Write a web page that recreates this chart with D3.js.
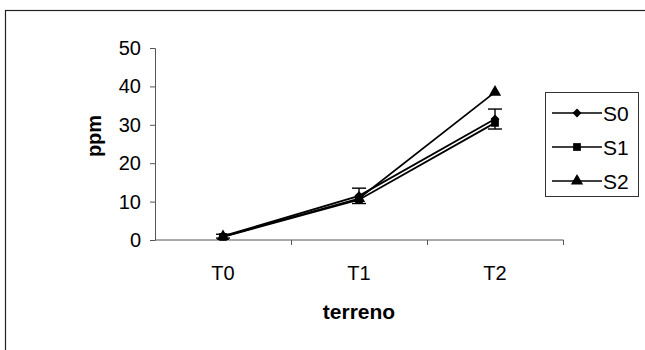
<!DOCTYPE html>
<html>
<head>
<meta charset="utf-8">
<script src="https://cdn.jsdelivr.net/npm/d3@7"></script>
<style>
  body { margin: 0; background: #fff; }
  text { font-family: Arial, "Liberation Sans", sans-serif; fill: #000; }
</style>
</head>
<body>
<div id="chart"></div>
<script>
const categories = ["T0", "T1", "T2"];
const seriesNames = ["S0", "S1", "S2"];
const s0 = [1, 11.5, 31.5];
const s1 = [0.8, 10.5, 30.5];
const s2 = [0.9, 10.8, 38.5];
const s0Err = [0.5, 2, 2.6];
const yTicks = [0, 10, 20, 30, 40, 50];

// S0 diamond = square turned 45 degrees
const series = [
    {name: "S0", values: s0, err: s0Err, symbol: d3.symbolSquare, size: 40, rot: 45},
    {name: "S1", values: s1, err: null, symbol: d3.symbolSquare, size: 60, rot: 0},
    {name: "S2", values: s2, err: null, symbol: d3.symbolTriangle, size: 65, rot: 0}
];

const W = 645, H = 350;
const margin = {top: 48, left: 155};
const width = 563 - margin.left, height = 240 - margin.top;

const svg = d3.select("#chart").append("svg")
    .attr("width", W).attr("height", H);

// outer chart frame (runs off the right and bottom of the picture)
svg.append("rect")
    .attr("x", 5.5).attr("y", 10.5)
    .attr("width", 700).attr("height", 400)
    .attr("fill", "none").attr("stroke", "#222").attr("stroke-width", 1.2);

const g = svg.append("g")
    .attr("transform", "translate(" + margin.left + "," + margin.top + ")");

const x = d3.scaleBand().domain(categories).range([0, width]);
const y = d3.scaleLinear().domain([0, 50]).range([height, 0]);

const yAxis = d3.axisLeft(y).tickValues(yTicks).tickSize(5).tickPadding(9);
const gy = g.append("g").call(yAxis);
gy.select(".domain").attr("stroke", "#555");
gy.selectAll(".tick line").attr("stroke", "#555");
gy.selectAll("text").style("font-size", "20px");

const xAxis = d3.axisBottom(x).tickSize(0).tickPadding(26);
const gx = g.append("g").attr("transform", "translate(0," + height + ")").call(xAxis);
gx.select(".domain").attr("stroke", "#555").attr("d", "M0.5,0H" + width + ".5");
gx.selectAll("text").style("font-size", "20px");
// category separator ticks
gx.selectAll(".sep")
    .data(categories.map((c, i) => i + 1))
    .enter().append("line")
    .attr("x1", i => i * x.step() + 0.5).attr("x2", i => i * x.step() + 0.5)
    .attr("y1", 0).attr("y2", 5)
    .attr("stroke", "#555");

const cx = c => x(c) + x.bandwidth() / 2;
const line = d3.line().x((d, i) => cx(categories[i])).y(d => y(d));

series.forEach(s => {
    g.append("path")
        .datum(s.values)
        .attr("d", line)
        .attr("fill", "none")
        .attr("stroke", "#000")
        .attr("stroke-width", 1.8);
});

series.forEach(s => {
    if (s.err) {
        s.values.forEach((v, i) => {
            const px = cx(categories[i]);
            const lo = y(v - s.err[i]), hi = y(v + s.err[i]);
            g.append("line").attr("x1", px).attr("x2", px)
                .attr("y1", lo).attr("y2", hi).attr("stroke", "#000").attr("stroke-width", 1.4);
            [lo, hi].forEach(yy => g.append("line")
                .attr("x1", px - 7).attr("x2", px + 7)
                .attr("y1", yy).attr("y2", yy)
                .attr("stroke", "#000").attr("stroke-width", 1.4));
        });
    }
    g.selectAll(null)
        .data(s.values)
        .enter().append("path")
        .attr("d", d3.symbol().type(s.symbol).size(s.size))
        .attr("transform", (d, i) => "translate(" + cx(categories[i]) + "," + y(d) + ") rotate(" + s.rot + ")")
        .attr("fill", "#000");
});

// axis titles
svg.append("text")
    .attr("transform", "translate(101,136) rotate(-90)")
    .attr("text-anchor", "middle")
    .style("font-size", "20px").style("font-weight", "bold")
    .text("ppm");

svg.append("text")
    .attr("x", 359).attr("y", 319)
    .attr("text-anchor", "middle")
    .style("font-size", "21px").style("font-weight", "bold")
    .text("terreno");

// legend
const legend = svg.append("g").attr("transform", "translate(545,92)");
legend.append("rect")
    .attr("x", 0.5).attr("y", 0.5).attr("width", 93).attr("height", 104)
    .attr("fill", "#fff").attr("stroke", "#333");
series.forEach((s, i) => {
    const ly = 21 + i * 34;
    legend.append("line").attr("x1", 7).attr("x2", 57)
        .attr("y1", ly).attr("y2", ly).attr("stroke", "#000").attr("stroke-width", 1.5);
    legend.append("path")
        .attr("d", d3.symbol().type(s.symbol).size(s.size))
        .attr("transform", "translate(32," + ly + ") rotate(" + s.rot + ")").attr("fill", "#000");
    legend.append("text").attr("x", 58).attr("y", ly + 7.5)
        .style("font-size", "21px").text(seriesNames[i]);
});
</script>
</body>
</html>
